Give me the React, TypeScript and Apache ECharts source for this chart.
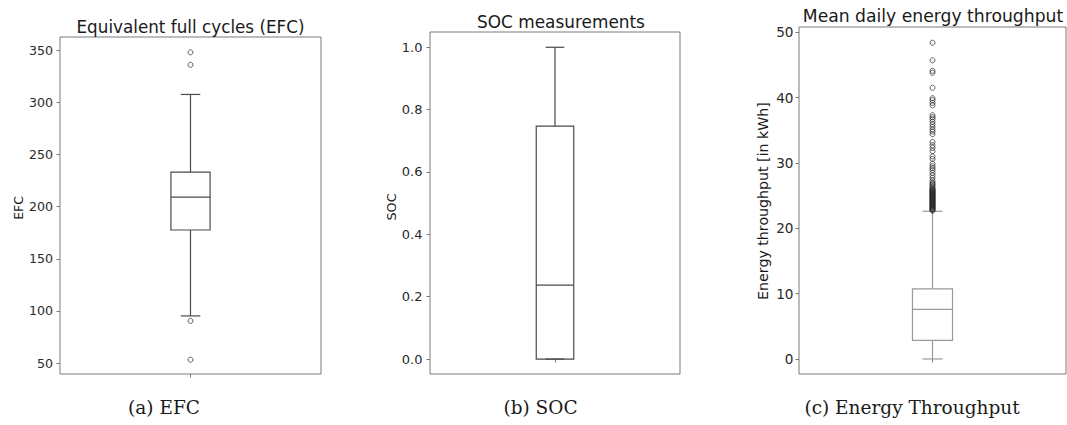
import React, { useEffect, useRef } from "react";
import * as echarts from "echarts";

// Panel (a) EFC: [lowerWhisker, q1, median, q3, upperWhisker]
const efcBox = [95.2, 177.6, 209.2, 233.1, 307.6];
const efcOutliers = [348, 336, 90.4, 53.2];
const efcTicks = [50, 100, 150, 200, 250, 300, 350];

// Panel (b) SOC
const socBox = [0.0, 0.0, 0.237, 0.747, 1.0];
const socOutliers: number[] = [];
const socTicks = [0.0, 0.2, 0.4, 0.6, 0.8, 1.0];

// Panel (c) Energy throughput (kWh)
const etBox = [0.0, 2.84, 7.58, 10.74, 22.6];
const etOutliers = [
  22.7, 22.8, 22.9, 23.0, 23.1, 23.2, 23.3, 23.4, 23.5, 23.6, 23.7, 23.8, 23.9,
  24.0, 24.1, 24.2, 24.3, 24.4, 24.5, 24.6, 24.7, 24.8, 24.9, 25.0, 25.1, 25.2,
  25.3, 25.4, 25.5, 25.6, 25.7, 25.8, 25.9, 26.0, 26.2, 26.4, 26.6, 26.8, 27.0,
  27.3, 27.7, 28.1, 28.5, 28.9, 29.2, 29.5, 29.9, 30.6, 31.0, 31.8, 32.3, 32.7,
  33.2, 34.4, 34.8, 35.1, 35.5, 35.9, 36.3, 36.7, 37.0, 37.3, 38.8, 39.2, 39.6,
  39.9, 41.5, 43.8, 44.1, 45.7, 48.4,
];
const etTicks = [0, 10, 20, 30, 40, 50];

const titles = ["Equivalent full cycles (EFC)", "SOC measurements", "Mean daily energy throughput"];
const yNames = ["EFC", "SOC", "Energy throughput [in kWh]"];
const captions = ["(a) EFC", "(b) SOC", "(c) Energy Throughput"];

export default function App() {
  const ref = useRef<HTMLDivElement>(null);
  useEffect(() => {
    if (!ref.current) return;
    const chart = echarts.init(ref.current, null, { renderer: "svg" });
    const sans = "DejaVu Sans";
    const frame = "#7a7a7a";
    const tickColor = "#2a2a2a";

    const grids = [
      { left: 60, top: 37, width: 261, height: 337 },
      { left: 430, top: 32, width: 250, height: 342 },
      { left: 799, top: 27, width: 267, height: 347 },
    ];
    const yRanges = [
      [39.5, 362.7],
      [-0.048, 1.049],
      [-2.3, 50.8],
    ];
    const tickSets = [efcTicks, socTicks, etTicks];
    const fontSizes = [12.6, 13, 13.6];
    const labelMargins = [7, 7.5, 5.5];
    const boxes = [efcBox, socBox, etBox];
    const outs = [efcOutliers, socOutliers, etOutliers];
    const boxColors = ["#4a4a4a", "#4a4a4a", "#9a9a9a"];

    const boxSeries = (i: number) => ({
      type: "custom",
      xAxisIndex: i,
      yAxisIndex: i,
      data: [[0, ...boxes[i]]],
      encode: { x: 0, y: [1, 2, 3, 4, 5] },
      renderItem: (params: any, api: any) => {
        const lw = api.value(1), q1 = api.value(2), med = api.value(3), q3 = api.value(4), uw = api.value(5);
        const cx = api.coord([0, med])[0];
        const bw = api.size([1, 0])[0];
        const hb = bw * 0.075;
        const hc = hb / 2;
        const y = (v: number) => api.coord([0, v])[1];
        const st = { stroke: boxColors[i], lineWidth: 1.2, fill: "none" };
        return {
          type: "group",
          children: [
            { type: "line", shape: { x1: cx, y1: y(q3), x2: cx, y2: y(uw) }, style: st },
            { type: "line", shape: { x1: cx, y1: y(q1), x2: cx, y2: y(lw) }, style: st },
            { type: "line", shape: { x1: cx - hc, y1: y(uw), x2: cx + hc, y2: y(uw) }, style: st },
            { type: "line", shape: { x1: cx - hc, y1: y(lw), x2: cx + hc, y2: y(lw) }, style: st },
            { type: "rect", shape: { x: cx - hb, y: y(q3), width: 2 * hb, height: y(q1) - y(q3) }, style: st },
            { type: "line", shape: { x1: cx - hb, y1: y(med), x2: cx + hb, y2: y(med) }, style: st },
          ],
        };
      },
      z: 2,
    });

    const outlierSeries = (i: number) => ({
      type: "scatter",
      xAxisIndex: i,
      yAxisIndex: i,
      data: outs[i].map((v) => [0, v]),
      symbol: "circle",
      symbolSize: 5,
      itemStyle: { color: "rgba(255,255,255,0)", borderColor: "#222", borderWidth: 0.9 },
      z: 3,
    });

    const option: any = {
      animation: false,
      backgroundColor: "#fff",
      grid: grids.map((g) => ({
        ...g,
        show: true,
        borderColor: frame,
        borderWidth: 1,
        backgroundColor: "transparent",
        containLabel: false,
      })),
      xAxis: grids.map((_, i) => ({
        type: "category",
        gridIndex: i,
        data: [""],
        axisLine: { show: false },
        axisLabel: { show: false },
        axisTick: { show: true, alignWithLabel: true, length: 3.5, lineStyle: { color: frame } },
        splitLine: { show: false },
      })),
      yAxis: grids.map((_, i) => ({
        type: "value",
        gridIndex: i,
        min: yRanges[i][0],
        max: yRanges[i][1],
        axisLine: { show: false },
        splitLine: { show: false },
        axisTick: { show: true, customValues: tickSets[i], length: 3.5, lineStyle: { color: frame } },
        axisLabel: {
          show: true,
          customValues: tickSets[i],
          margin: labelMargins[i],
          color: tickColor,
          fontFamily: sans,
          fontSize: fontSizes[i],
          formatter: (v: number) => (i === 1 ? v.toFixed(1) : String(Math.round(v))),
        },
      })),
      series: [0, 1, 2].flatMap((i) => [boxSeries(i), outlierSeries(i)]),
      graphic: [
        // titles
        { type: "text", x: 190.5, y: 27, style: { text: titles[0], font: `16.8px ${sans}`, fill: "#1a1a1a", textAlign: "center", textVerticalAlign: "middle" } },
        { type: "text", x: 561, y: 22, style: { text: titles[1], font: `16.9px ${sans}`, fill: "#1a1a1a", textAlign: "center", textVerticalAlign: "middle" } },
        { type: "text", x: 933, y: 16, style: { text: titles[2], font: `17.2px ${sans}`, fill: "#1a1a1a", textAlign: "center", textVerticalAlign: "middle" } },
        // y-axis names
        { type: "text", x: 18, y: 208, rotation: Math.PI / 2, style: { text: yNames[0], font: `12.4px ${sans}`, fill: "#1a1a1a", textAlign: "center", textVerticalAlign: "middle" } },
        { type: "text", x: 391, y: 207, rotation: Math.PI / 2, style: { text: yNames[1], font: `12.8px ${sans}`, fill: "#1a1a1a", textAlign: "center", textVerticalAlign: "middle" } },
        { type: "text", x: 763, y: 201, rotation: Math.PI / 2, style: { text: yNames[2], font: `14.2px ${sans}`, fill: "#1a1a1a", textAlign: "center", textVerticalAlign: "middle" } },
        // captions
        { type: "text", x: 164, y: 407, style: { text: captions[0], font: `18.5px "DejaVu Serif"`, fill: "#1a1a1a", textAlign: "center", textVerticalAlign: "middle" } },
        { type: "text", x: 540.5, y: 407, style: { text: captions[1], font: `18.5px "DejaVu Serif"`, fill: "#1a1a1a", textAlign: "center", textVerticalAlign: "middle" } },
        { type: "text", x: 912, y: 407, style: { text: captions[2], font: `18.5px "DejaVu Serif"`, fill: "#1a1a1a", textAlign: "center", textVerticalAlign: "middle" } },
      ],
    };
    chart.setOption(option);
    return () => chart.dispose();
  }, []);
  return (
    <div
      ref={ref}
      style={{ position: "fixed", left: 0, top: 0, width: 1067, height: 425, background: "#fff" }}
    />
  );
}
